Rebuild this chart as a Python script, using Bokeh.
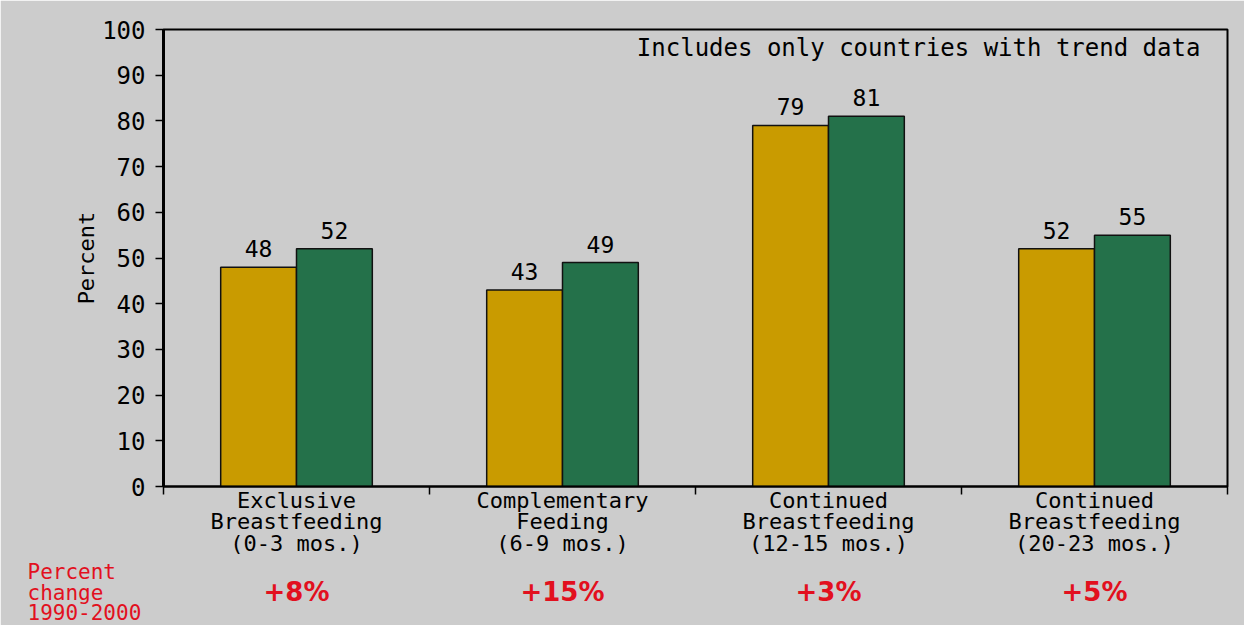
from bokeh.plotting import figure
from bokeh.models import (FactorRange, Range1d, LinearAxis, CategoricalAxis, FixedTicker,
                          ColumnDataSource, LabelSet, Label, Title)
from bokeh.core.properties import value
from bokeh.transform import dodge
from bokeh.embed import file_html
from bokeh.resources import INLINE

# ---- data ----
categories = [
    "Exclusive\nBreastfeeding\n(0-3 mos.)",
    "Complementary\nFeeding\n(6-9 mos.)",
    "Continued\nBreastfeeding\n(12-15 mos.)",
    "Continued\nBreastfeeding\n(20-23 mos.)",
]
values_1990 = [48, 43, 79, 52]
values_2000 = [52, 49, 81, 55]
pct_change = ["+8%", "+15%", "+3%", "+5%"]
y_ticks = [0, 10, 20, 30, 40, 50, 60, 70, 80, 90, 100]
note_text = "Includes only countries with trend data"
change_caption = "Percent\nchange\n1990-2000"

# ---- style ----
BG = "#cccccc"
GOLD = "#c99b00"
GREEN = "#24714a"
RED = "#e2101e"
FONT = "DejaVu Sans Mono"
BOLD_FONT = "DejaVu Sans"

src = ColumnDataSource(dict(
    cat=categories,
    v1990=values_1990,
    v2000=values_2000,
    l1990=[str(v) for v in values_1990],
    l2000=[str(v) for v in values_2000],
))

p = figure(
    x_range=FactorRange(factors=categories), y_range=Range1d(0, 100),
    width=1244, height=625, output_backend="svg", toolbar_location=None,
    x_axis_location=None, y_axis_location=None,
    min_border_left=163, min_border_right=17, min_border_top=29, min_border_bottom=139,
    background_fill_color=BG, border_fill_color=BG,
    outline_line_color="black", outline_line_width=2,
)
p.xgrid.visible = False
p.ygrid.visible = False

# y axis
yaxis = LinearAxis(
    ticker=FixedTicker(ticks=y_ticks), axis_label="Percent",
    axis_line_color="black", axis_line_width=3,
    major_tick_out=8, major_tick_in=0, major_tick_line_width=1.5,
    minor_tick_line_color=None,
    major_label_standoff=10,
    major_label_text_font=FONT, major_label_text_font_size="24px",
    major_label_text_color="black",
    axis_label_text_font=FONT, axis_label_text_font_size="22px",
    axis_label_text_font_style="normal", axis_label_text_color="black",
    axis_label_standoff=0,
)
p.add_layout(yaxis, "left")

# x axis line with ticks at category boundaries (synthetic coordinates 0..4)
n_cat = len(categories)
tick_axis = LinearAxis(
    ticker=FixedTicker(ticks=list(range(n_cat + 1))),
    axis_line_color="black", axis_line_width=2,
    major_tick_out=8, major_tick_in=0, major_tick_line_width=1.5,
    minor_tick_line_color=None,
    major_label_overrides={i: "" for i in range(n_cat + 1)},
    major_label_text_font_size="0px", major_label_standoff=0,
)
p.add_layout(tick_axis, "below")

# category labels
cat_axis = CategoricalAxis(
    axis_line_color=None, major_tick_line_color=None, minor_tick_line_color=None,
    major_tick_out=0, major_tick_in=0, major_label_standoff=-7,
    major_label_text_font=FONT, major_label_text_font_size="22px",
    major_label_text_line_height=0.86, major_label_text_color="black",
)
p.add_layout(cat_axis, "below")

# caption of the percent-change row (left, below the category labels)
p.add_layout(Title(
    text=change_caption, align="left", offset=-136, standoff=0,
    text_font=FONT, text_font_size="21px", text_font_style="normal",
    text_line_height=0.86, text_color=RED,
), "below")

# percent change row (pulled up level with the caption)
p.extra_x_ranges = {"pct": FactorRange(factors=pct_change)}
pct_axis = CategoricalAxis(
    x_range_name="pct",
    axis_line_color=None, major_tick_line_color=None, minor_tick_line_color=None,
    major_tick_out=0, major_tick_in=0, major_label_standoff=-49,
    major_label_text_font=BOLD_FONT, major_label_text_font_size="26px",
    major_label_text_font_style="bold", major_label_text_color=RED,
)
p.add_layout(pct_axis, "below")

# bars
W = 0.285
p.vbar(x=dodge("cat", -W / 2, range=p.x_range), top="v1990", width=W, source=src,
       fill_color=GOLD, line_color="#111111", line_width=1.5)
p.vbar(x=dodge("cat", W / 2, range=p.x_range), top="v2000", width=W, source=src,
       fill_color=GREEN, line_color="#111111", line_width=1.5)

# value labels
for col, off in (("l1990", -W / 2), ("l2000", W / 2)):
    ycol = "v1990" if col == "l1990" else "v2000"
    p.add_layout(LabelSet(
        x=dodge("cat", off, range=p.x_range), y=ycol, text=col, source=src,
        y_offset=10, text_align="center", text_baseline="alphabetic",
        text_font=value(FONT), text_font_size=value("23px"), text_color="black",
    ))

# note at top right
p.add_layout(Label(
    x=3.898, y=95.9, text=note_text,
    text_align="right", text_baseline="middle",
    text_font=FONT, text_font_size="24px", text_color="black",
))

open("out.html", "w").write(file_html(p, INLINE))
